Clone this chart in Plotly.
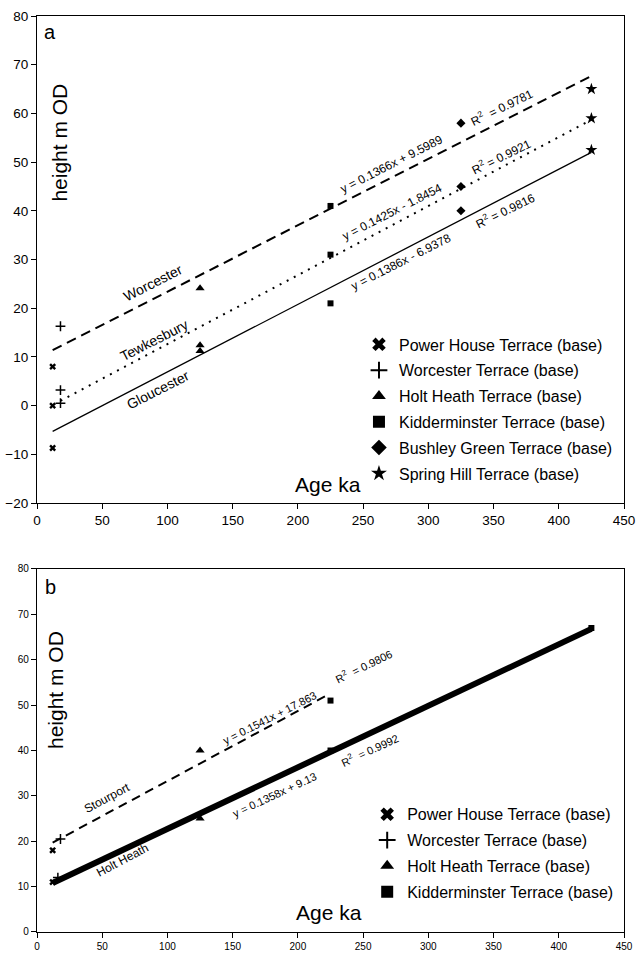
import plotly.graph_objects as go

FONT = "Liberation Sans, Arial, sans-serif"

# ---------------- Panel a data ----------------
series_names_a = ["Power House Terrace (base)", "Worcester Terrace (base)", "Holt Heath Terrace (base)",
                  "Kidderminster Terrace (base)", "Bushley Green Terrace (base)", "Spring Hill Terrace (base)"]
power_house_a_x = [12, 12, 12]
power_house_a_y = [8, 0, -8.7]
worcester_a_x = [18, 18, 18]
worcester_a_y = [16.3, 3.2, 0.5]
holt_heath_a_x = [125, 125, 125]
holt_heath_a_y = [24.1, 12.4, 11.2]
kidderminster_a_x = [225, 225, 225]
kidderminster_a_y = [41, 31, 21]
bushley_a_x = [325, 325, 325]
bushley_a_y = [58, 45, 40]
spring_hill_a_x = [425, 425, 425]
spring_hill_a_y = [65, 59, 52.5]

# fitted lines (endpoints)
worcester_fit_x = [12, 425]
worcester_fit_y = [11.4, 67.7]
tewkesbury_fit_x = [18, 425]
tewkesbury_fit_y = [1.0, 58.7]
gloucester_fit_x = [12, 425]
gloucester_fit_y = [-5.3, 52.0]

# ---------------- Panel b data ----------------
series_names_b = series_names_a[:4]
power_house_b_x = [12, 12]
power_house_b_y = [18, 11]
worcester_b_x = [18, 16]
worcester_b_y = [20.5, 12]
holt_heath_b_x = [125, 125]
holt_heath_b_y = [40, 25]
kidderminster_b_x = [225, 225, 425]
kidderminster_b_y = [51, 40, 67]

stourport_fit_x = [12, 222]
stourport_fit_y = [19.7, 52.1]
holtheath_fit_x = [12, 425]
holtheath_fit_y = [10.8, 66.8]

x_ticks = [0, 50, 100, 150, 200, 250, 300, 350, 400, 450]
y_ticks_a = [-20, -10, 0, 10, 20, 30, 40, 50, 60, 70, 80]
y_ticks_b = [0, 10, 20, 30, 40, 50, 60, 70, 80]

fig = go.Figure()

sym = ["x", "cross-thin", "triangle-up", "square", "diamond", "star"]
sizes = [6, 7, 8, 6, 7, 9]
pts_a = [(power_house_a_x, power_house_a_y), (worcester_a_x, worcester_a_y), (holt_heath_a_x, holt_heath_a_y),
         (kidderminster_a_x, kidderminster_a_y), (bushley_a_x, bushley_a_y), (spring_hill_a_x, spring_hill_a_y)]

# lines panel a
fig.add_trace(go.Scatter(x=worcester_fit_x, y=worcester_fit_y, mode="lines", showlegend=False,
                         line=dict(color="black", width=2, dash="10px,6px"), xaxis="x", yaxis="y"))
fig.add_trace(go.Scatter(x=tewkesbury_fit_x, y=tewkesbury_fit_y, mode="lines", showlegend=False,
                         line=dict(color="black", width=2, dash="2px,6px"), xaxis="x", yaxis="y"))
fig.add_trace(go.Scatter(x=gloucester_fit_x, y=gloucester_fit_y, mode="lines", showlegend=False,
                         line=dict(color="black", width=1.3), xaxis="x", yaxis="y"))

for i, (name, (xs, ys)) in enumerate(zip(series_names_a, pts_a)):
    fig.add_trace(go.Scatter(x=xs, y=ys, mode="markers", name=name, legend="legend",
                             legendgroup="a%d" % i,
                             marker=dict(symbol=sym[i], size=sizes[i], color="black",
                                         line=dict(color="black", width=1.5 if sym[i] == "cross-thin" else 0)),
                             xaxis="x", yaxis="y"))

# lines panel b
fig.add_trace(go.Scatter(x=stourport_fit_x, y=stourport_fit_y, mode="lines", showlegend=False,
                         line=dict(color="black", width=2, dash="9px,6px"), xaxis="x2", yaxis="y2"))
fig.add_trace(go.Scatter(x=holtheath_fit_x, y=holtheath_fit_y, mode="lines", showlegend=False,
                         line=dict(color="black", width=6), xaxis="x2", yaxis="y2"))

pts_b = [(power_house_b_x, power_house_b_y), (worcester_b_x, worcester_b_y), (holt_heath_b_x, holt_heath_b_y),
         (kidderminster_b_x, kidderminster_b_y)]
for i, (name, (xs, ys)) in enumerate(zip(series_names_b, pts_b)):
    fig.add_trace(go.Scatter(x=xs, y=ys, mode="markers", name=name, legend="legend2",
                             legendgroup="b%d" % i,
                             marker=dict(symbol=sym[i], size=sizes[i], color="black",
                                         line=dict(color="black", width=1.5 if sym[i] == "cross-thin" else 0)),
                             xaxis="x2", yaxis="y2"))

axis_common = dict(showgrid=False, zeroline=False, showline=True, linecolor="black", linewidth=1.2,
                   mirror=True, ticks="outside", ticklen=5, tickwidth=1, tickcolor="black",
                   automargin=False)

legend_common = dict(font=dict(family=FONT, size=16, color="black"), bgcolor="rgba(0,0,0,0)",
                     itemsizing="constant", traceorder="grouped", tracegroupgap=2,
                     xanchor="left", yanchor="top")

anns = []
def ann(text, x, y, xr, yr, size, angle=0, xanchor="center"):
    anns.append(dict(text=text, x=x, y=y, xref=xr, yref=yr, showarrow=False, textangle=angle,
                     xanchor=xanchor, yanchor="middle", font=dict(family=FONT, size=size, color="black")))

# panel a texts
ann("a", 10, 76.7, "x", "y", 20)
ann("height m OD", 17.6, 54, "x", "y", 21, -90)
ann("Age ka", 223, -16.2, "x", "y", 21)
ann("Worcester", 88.6, 25.2, "x", "y", 14, -27)
ann("Tewkesbury", 90, 13.5, "x", "y", 14, -27)
ann("Gloucester", 92.5, 3.2, "x", "y", 14, -27)
ann("y = 0.1366x + 9.5989", 272, 49.6, "x", "y", 12, -27)
ann("R<sup>2</sup>  = 0.9781", 356, 61.3, "x", "y", 12, -26)
ann("y = 0.1425x - 1.8454", 272, 39.8, "x", "y", 12, -27)
ann("R<sup>2</sup> = 0.9921", 356, 51.3, "x", "y", 12, -26)
ann("y = 0.1386x - 6.9378", 279, 29.5, "x", "y", 12, -27)
ann("R<sup>2</sup> = 0.9816", 359, 40.2, "x", "y", 12, -26)

# panel b texts
ann("b", 10, 76, "x2", "y2", 20)
ann("height m OD", 13.7, 53.3, "x2", "y2", 21, -90)
ann("Age ka", 224, 4.2, "x2", "y2", 21)
ann("Stourport", 53.5, 29.6, "x2", "y2", 12, -28)
ann("Holt Heath", 65.7, 15.9, "x2", "y2", 12, -28)
ann("y = 0.1541x + 17.863", 178, 47.2, "x2", "y2", 11, -27)
ann("R<sup>2</sup>  = 0.9806", 250.6, 58.6, "x2", "y2", 11, -26)
ann("y = 0.1358x + 9.13", 181.8, 30.2, "x2", "y2", 11, -25)
ann("R<sup>2</sup>  = 0.9992", 255, 40.1, "x2", "y2", 11, -25)

fig.update_layout(
    width=638, height=953,
    margin=dict(l=37, r=14, t=16, b=21, autoexpand=False),
    paper_bgcolor="white", plot_bgcolor="white",
    font=dict(family=FONT, color="black"),
    xaxis=dict(domain=[0, 1], range=[0, 450], tickvals=x_ticks, anchor="y",
               tickfont=dict(size=13.5), **axis_common),
    yaxis=dict(domain=[0.4683, 1], range=[-20, 80], tickvals=y_ticks_a, anchor="x",
               tickfont=dict(size=13.5), **axis_common),
    xaxis2=dict(domain=[0, 1], range=[0, 450], tickvals=x_ticks, anchor="y2",
                tickfont=dict(size=10), **axis_common),
    yaxis2=dict(domain=[0, 0.3963], range=[0, 80], tickvals=y_ticks_b, anchor="x2",
                tickfont=dict(size=10), **axis_common),
    legend=dict(x=0.5485, y=0.660, **legend_common),
    legend2=dict(x=0.5625, y=0.147, **legend_common),
    annotations=anns,
)

fig.write_html("out.html", config={"displayModeBar": False},
               post_script="document.body.style.margin='0';")
